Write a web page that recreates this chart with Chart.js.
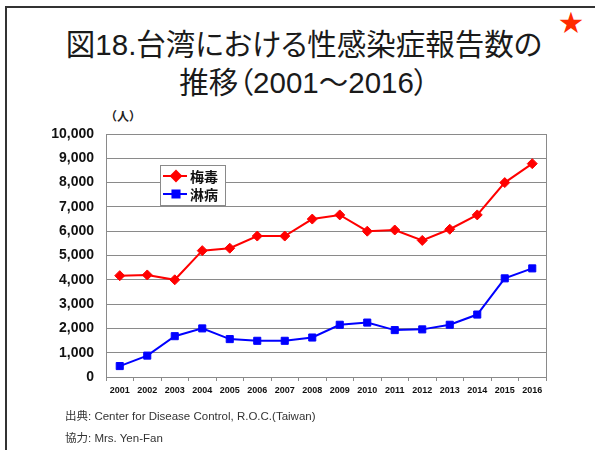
<!DOCTYPE html>
<html>
<head>
<meta charset="utf-8">
<script src="https://cdn.jsdelivr.net/npm/chart.js@4.4.0/dist/chart.umd.min.js"></script>
<style>
  html, body { margin: 0; padding: 0; background: #fff; }
  #page { position: relative; width: 595px; height: 450px; overflow: hidden; font-family: "Liberation Sans", "Noto Sans CJK JP", sans-serif; color: #222; }
  #frame { position: absolute; left: 5px; top: 6px; width: 620px; height: 480px; border-left: 2px solid #333; border-top: 2px solid #333; }
  #chart { position: absolute; left: 0; top: 0; }
  .title { position: absolute; left: 14px; width: 580px; text-align: center; font-size: 29.5px; line-height: 38px; top: 26px; font-feature-settings: "palt"; color: #1a1a1a; }
  .star { position: absolute; left: 559px; top: 9px; font-size: 24px; line-height: 28px; color: #ff2a00; }
  .unit { position: absolute; left: 105px; top: 108px; font-family: "Noto Sans CJK JP"; font-size: 12px; line-height: 15px; font-weight: 700; }
  .note { position: absolute; left: 65px; font-size: 11.5px; line-height: 14px; color: #333; }
</style>
</head>
<body>
<div id="page">
  <div id="frame"></div>
  <div class="title">図18.台湾における性感染症報告数の<br>推移（2001～2016）</div>
  <div class="star">★</div>
  <div class="unit">（人）</div>
  <canvas id="chart" width="595" height="450"></canvas>
  <div class="note" style="top:409px">出典: Center for Disease Control, R.O.C.(Taiwan)</div>
  <div class="note" style="top:431px">協力: Mrs. Yen-Fan</div>
</div>
<script>
const years = ['2001', '2002', '2003', '2004', '2005', '2006', '2007', '2008',
  '2009', '2010', '2011', '2012', '2013', '2014', '2015', '2016'];
const syphilis = [4170, 4200, 4000, 5200, 5300, 5800, 5800, 6500,
  6670, 6000, 6050, 5620, 6080, 6670, 8000, 8780];
const gonorrhea = [450, 880, 1680, 2000, 1560, 1490, 1490, 1625,
  2150, 2240, 1930, 1960, 2150, 2570, 4060, 4470];
const seriesNames = ['梅毒', '淋病'];
const yTicks = [0, 1000, 2000, 3000, 4000, 5000, 6000, 7000, 8000, 9000, 10000];

const GRID = '#8a8a8a';

// legend box drawn inside the plot, like the original
const boxLegend = {
  id: 'boxLegend',
  afterDraw(chart) {
    const ctx = chart.ctx;
    const x = 160, y = 165, w = 65, h = 40;
    ctx.save();
    ctx.fillStyle = '#fff';
    ctx.fillRect(x, y, w, h);
    ctx.strokeStyle = GRID;
    ctx.lineWidth = 1;
    ctx.strokeRect(x + 0.5, y + 0.5, w, h);
    chart.data.datasets.forEach((ds, i) => {
      const rowY = y + 11 + i * 18;
      ctx.strokeStyle = ds.borderColor;
      ctx.lineWidth = 2;
      ctx.beginPath();
      ctx.moveTo(x + 3, rowY);
      ctx.lineTo(x + 27, rowY);
      ctx.stroke();
      ctx.fillStyle = ds.borderColor;
      Chart.helpers.drawPoint(ctx, { pointStyle: ds.pointStyle, radius: 5, borderWidth: 1 }, x + 16, rowY);
      ctx.fill();
      ctx.fillStyle = '#111';
      ctx.font = 'bold 14px "Noto Sans CJK JP"';
      ctx.textBaseline = 'middle';
      ctx.fillText(ds.label, x + 30, rowY + 1);
    });
    ctx.restore();
  }
};

new Chart(document.getElementById('chart'), {
  type: 'line',
  data: {
    labels: years,
    datasets: [
      {
        label: seriesNames[0],
        data: syphilis,
        borderColor: '#ff0000',
        backgroundColor: '#ff0000',
        borderWidth: 2,
        pointStyle: 'rectRot',
        pointRadius: 5,
        pointBorderWidth: 1,
        tension: 0
      },
      {
        label: seriesNames[1],
        data: gonorrhea,
        borderColor: '#0000ff',
        backgroundColor: '#0000ff',
        borderWidth: 2,
        pointStyle: 'rect',
        pointRadius: 5,
        pointBorderWidth: 1,
        tension: 0
      }
    ]
  },
  options: {
    responsive: false,
    animation: false,
    layout: { padding: { left: 50, right: 48, top: 134, bottom: 0 } },
    plugins: { legend: { display: false }, tooltip: { enabled: false } },
    scales: {
      x: {
        offset: true,
        grid: { offset: true, drawOnChartArea: false, color: GRID, tickLength: 4 },
        border: { color: GRID, width: 1 },
        ticks: { color: '#111', font: { family: '"Liberation Sans Narrow", "Liberation Sans"', size: 9, weight: 'bold' }, maxRotation: 0, autoSkip: false, padding: 4 },
        afterFit: (s) => { s.height = 73; }
      },
      y: {
        min: 0,
        max: 10000,
        afterBuildTicks: (s) => { s.ticks = yTicks.map(v => ({ value: v })); },
        grid: { color: GRID, drawTicks: false },
        border: { color: GRID, width: 1 },
        ticks: {
          color: '#111',
          padding: 12,
          font: { family: '"Liberation Sans"', size: 14, weight: 'bold' },
          callback: (v) => v.toLocaleString('en-US')
        },
        afterFit: (s) => { s.width = 56; }
      },
      y2: {
        position: 'right',
        grid: { drawOnChartArea: false, drawTicks: false },
        border: { color: GRID, width: 1 },
        ticks: { display: false },
        afterFit: (s) => { s.width = 1; }
      }
    }
  },
  plugins: [boxLegend]
});
</script>
</body>
</html>
